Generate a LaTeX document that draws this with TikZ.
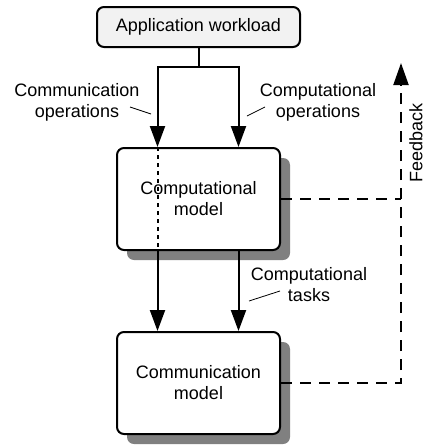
\documentclass[tikz,border=0pt]{standalone}
\usepackage{fontspec}
\setmainfont{Liberation Sans}
\usetikzlibrary{arrows.meta,positioning,shadows}

\begin{document}
\begin{tikzpicture}[x=1pt,y=-1pt,line width=2pt,
		font=\fontsize{18}{21}\selectfont,
		model/.style={draw,rounded corners=7pt,fill=white,minimum width=163pt,minimum height=102pt,align=center,
			drop shadow={shadow xshift=10pt,shadow yshift=-10pt,fill=black!50,opacity=1}},
		flow/.style={-{Triangle[length=21pt,width=15pt]}},
		feedback/.style={dash pattern=on 11pt off 8pt,-{Triangle[length=22pt,width=15pt]}},
		leader/.style={line width=0.8pt}]
	\useasboundingbox (0,0) rectangle (427,445);
	\node[draw,rounded corners=7pt,fill=gray!10,minimum width=203pt,minimum height=40pt] (work) at (198.5,27) {Application workload};
	\node[model] (comp) at (198.5,199) {Computational\\model};
	\node[model] (comm) at (198.5,383) {Communication\\model};
	\node[align=center] (commops) at (77,102) {Communication\\operations};
	\node[align=center] (compops) at (318,102) {Computational\\operations};
	\node[align=center] (tasks) at (309,285) {Computational\\tasks};
	\node[rotate=90] (fblabel) at (416,143) {Feedback};
	% workload splits into two streams
	\coordinate (fork) at (198.5,67);
	\draw (work.south) -- (fork);
	\draw[flow] (fork) -| ([xshift=-41pt]comp.north);
	\draw[flow] (fork) -| ([xshift=40pt]comp.north);
	\draw[dash pattern=on 4pt off 4pt,line width=2pt] ([xshift=-41pt]comp.north) -- ([xshift=-41pt]comp.south);
	\draw[flow] ([xshift=-41pt]comp.south) -- ([xshift=-41pt]comm.north);
	\draw[flow] ([xshift=40pt]comp.south) -- ([xshift=40pt]comm.north);
	% feedback loop
	\coordinate (fbtop) at (401,63);
	\draw[feedback] (comm.east) -| (fbtop);
	\draw[dash pattern=on 11pt off 8pt] (comp.east) -- (comp.east -| fbtop);
	% leader lines
	\coordinate (commopsL) at (130,107);
	\coordinate (compopsL) at (265,107);
	\coordinate (tasksL) at (280,291);
	\draw[leader] (commopsL) -- ++(21,7);
	\draw[leader] (compopsL) -- ++(-18,9);
	\draw[leader] (tasksL) -- ++(-31,10);
\end{tikzpicture}
\end{document}
